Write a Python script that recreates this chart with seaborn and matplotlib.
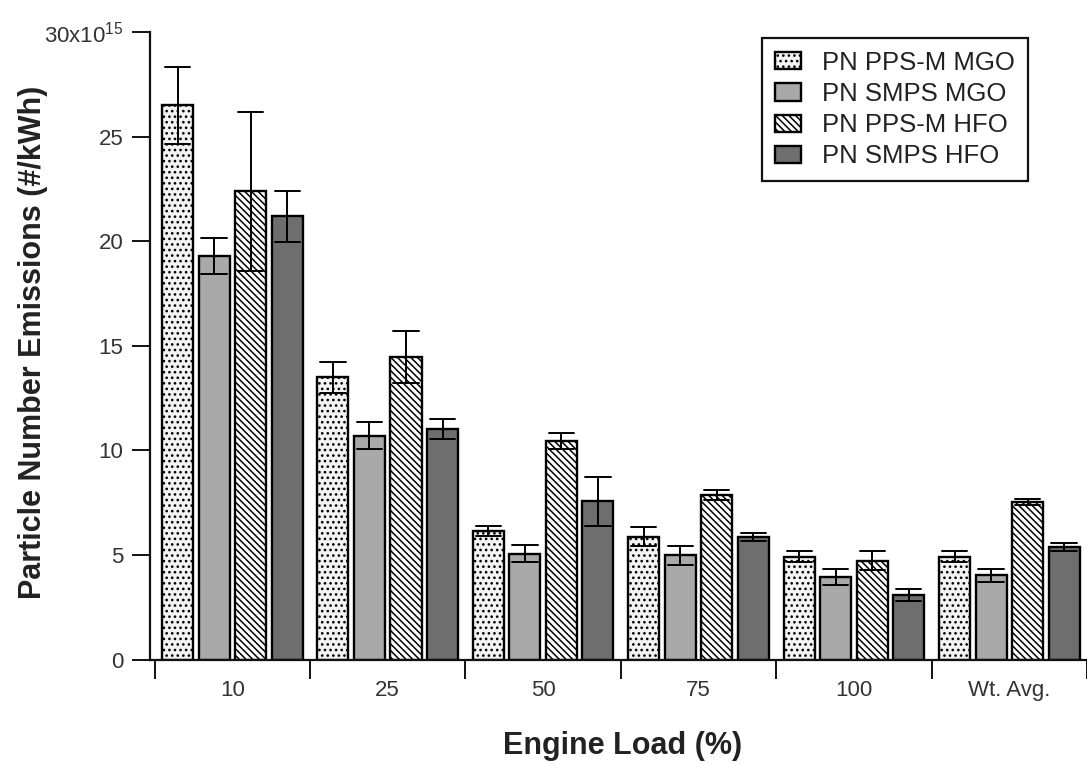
import numpy as np
import pandas as pd
import matplotlib
matplotlib.use("Agg")
import matplotlib.pyplot as plt
import seaborn as sns

# ---- data (x10^15 #/kWh) ----
loads = ["10", "25", "50", "75", "100", "Wt. Avg."]
series = ["PN PPS-M MGO", "PN SMPS MGO", "PN PPS-M HFO", "PN SMPS HFO"]

pps_mgo = [26.5, 13.5, 6.15, 5.87, 4.91, 4.91]
pps_mgo_err = [1.85, 0.75, 0.25, 0.46, 0.27, 0.27]
smps_mgo = [19.3, 10.7, 5.07, 4.99, 3.94, 4.03]
smps_mgo_err = [0.87, 0.64, 0.40, 0.46, 0.40, 0.31]
pps_hfo = [22.4, 14.45, 10.45, 7.88, 4.72, 7.53]
pps_hfo_err = [3.8, 1.24, 0.38, 0.25, 0.46, 0.14]
smps_hfo = [21.2, 11.02, 7.56, 5.87, 3.08, 5.37]
smps_hfo_err = [1.23, 0.46, 1.17, 0.19, 0.27, 0.19]

values = [pps_mgo, smps_mgo, pps_hfo, smps_hfo]
errors = [pps_mgo_err, smps_mgo_err, pps_hfo_err, smps_hfo_err]

fills = ["#f3f3f3", "#a9a9a9", "#ffffff", "#6e6e6e"]
hatches = ["...", "", "\\\\\\\\\\", ""]

# table: two rows per bar (value - err, value + err) -> mean = value, range = +-err
rows = []
for s, vals, errs in zip(series, values, errors):
    for ld, v, e in zip(loads, vals, errs):
        rows.append({"load": ld, "series": s, "pn": v - e})
        rows.append({"load": ld, "series": s, "pn": v + e})
df = pd.DataFrame(rows)

sns.set_theme(style="white")
plt.rcParams["font.family"] = ["Liberation Sans", "DejaVu Sans"]
plt.rcParams["mathtext.fontset"] = "custom"
plt.rcParams["mathtext.rm"] = "Liberation Sans"
plt.rcParams["mathtext.it"] = "Liberation Sans"
plt.rcParams["hatch.linewidth"] = 1.1

W, H = 1087, 765
fig = plt.figure(figsize=(W / 100, H / 100), dpi=100)
ax_l, ax_r, ax_b, ax_t = 150, 1087, 659.5, 32.3
ax = fig.add_axes([ax_l / W, 1 - ax_b / H, (ax_r - ax_l) / W, (ax_b - ax_t) / H])

sns.barplot(
    data=df, x="load", y="pn", hue="series", order=loads, hue_order=series,
    palette=dict(zip(series, fills)), estimator="mean", errorbar=("pi", 100),
    width=0.94, gap=0.15, capsize=0.65, saturation=1,
    edgecolor="black", linewidth=1.7,
    err_kws={"color": "black", "linewidth": 1.4},
    legend=False, ax=ax,
)

for cont, h in zip(ax.containers, hatches):
    for p in cont.patches:
        p.set_hatch(h)
        p.set_edgecolor("black")

ax.set_ylim(0, 30)
ax.set_xlim(-0.53, 5.45)

# spines
for s in ["top", "right"]:
    ax.spines[s].set_visible(False)
for s in ["left", "bottom"]:
    ax.spines[s].set_linewidth(1.6)
    ax.spines[s].set_color("#111111")

# y ticks
yt = [0, 5, 10, 15, 20, 25, 30]
ax.set_yticks(yt)
ax.set_yticklabels(["0", "5", "10", "15", "20", "25", r"30x10$^{15}$"])
ax.tick_params(axis="y", direction="out", length=13, width=1.4, pad=6,
               labelsize=16, labelcolor="#333333", color="#111111", left=True)

# x ticks: labels at centres, marks at group boundaries
ax.set_xticks(range(len(loads)))
ax.set_xticklabels(loads)
ax.set_xticks(np.arange(-0.5, len(loads) - 0.4, 1.0), minor=True)
ax.tick_params(axis="x", which="major", length=0, pad=15, labelsize=16,
               labelcolor="#333333", bottom=True)
ax.tick_params(axis="x", which="minor", direction="out", length=14, width=1.4,
               color="#111111", bottom=True)

ax.set_xlabel("Engine Load (%)", fontsize=22, fontweight="bold", color="#222222")
ax.set_ylabel("Particle Number Emissions (#/kWh)", fontsize=22, fontweight="bold",
              color="#222222")
ax.xaxis.set_label_coords((623 - ax_l) / (ax_r - ax_l), (ax_b - 731) / (ax_b - ax_t))
ax.yaxis.set_label_coords((48 - ax_l) / (ax_r - ax_l), 0.505)

handles = [c.patches[0] for c in ax.containers]
leg = ax.legend(
    handles, series, loc="upper left",
    bbox_to_anchor=((762 - ax_l) / (ax_r - ax_l), (ax_b - 38) / (ax_b - ax_t)),
    borderaxespad=0, frameon=True, fancybox=False, framealpha=1,
    edgecolor="#111111", fontsize=18.5, handlelength=1.0, handleheight=0.65,
    handletextpad=0.85, labelspacing=0.28, borderpad=0.5,
)
leg.get_frame().set_linewidth(1.6)
for t in leg.get_texts():
    t.set_color("#222222")

fig.savefig("out.png", dpi=100, facecolor="white")
